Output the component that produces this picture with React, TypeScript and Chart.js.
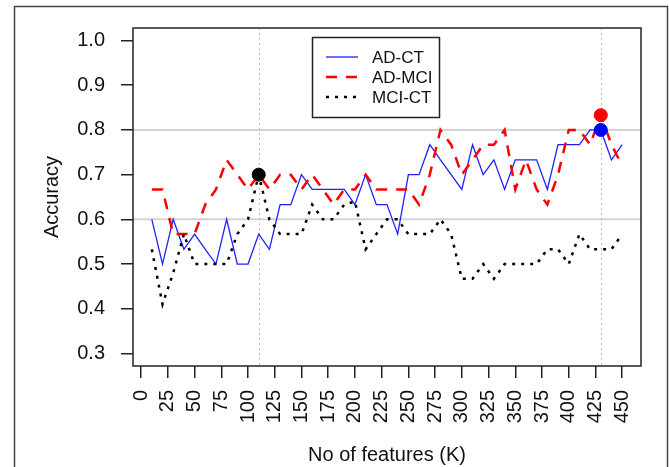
import React, { useEffect, useRef } from "react";
import { Chart, registerables } from "chart.js";

Chart.register(...registerables);

const featureCounts = [
  10, 20, 30, 40, 50, 60, 70, 80, 90, 100, 110, 120, 130, 140, 150, 160, 170, 180, 190, 200, 210, 220, 230,
  240, 250, 260, 270, 280, 290, 300, 310, 320, 330, 340, 350, 360, 370, 380, 390, 400, 410, 420, 430, 440, 450,
];

const adCt = [
  0.6, 0.5, 0.6, 0.533, 0.567, 0.533, 0.5, 0.6, 0.5, 0.5, 0.567, 0.533, 0.633, 0.633, 0.7, 0.667, 0.667, 0.667,
  0.667, 0.633, 0.7, 0.633, 0.633, 0.567, 0.7, 0.7, 0.767, 0.733, 0.7, 0.667, 0.767, 0.7, 0.733, 0.667, 0.733,
  0.733, 0.733, 0.667, 0.767, 0.767, 0.767, 0.8, 0.8, 0.733, 0.767,
];

const adMci = [
  0.667, 0.667, 0.567, 0.567, 0.567, 0.633, 0.667, 0.733, 0.7, 0.667, 0.7, 0.667, 0.7, 0.7, 0.667, 0.7, 0.667,
  0.633, 0.667, 0.667, 0.7, 0.667, 0.667, 0.667, 0.667, 0.633, 0.7, 0.8, 0.767, 0.7, 0.733, 0.767, 0.767, 0.8,
  0.667, 0.733, 0.667, 0.633, 0.7, 0.8, 0.8, 0.767, 0.833, 0.767, 0.72,
];

const mciCt = [
  0.533, 0.41, 0.48, 0.567, 0.5, 0.5, 0.5, 0.5, 0.567, 0.6, 0.7, 0.6, 0.567, 0.567, 0.567, 0.633, 0.6, 0.6, 0.633,
  0.64, 0.533, 0.567, 0.6, 0.6, 0.567, 0.567, 0.567, 0.6, 0.567, 0.467, 0.467, 0.5, 0.467, 0.5, 0.5, 0.5, 0.5,
  0.533, 0.533, 0.5, 0.567, 0.533, 0.533, 0.533, 0.567,
];

const seriesLabels = ["AD-CT", "AD-MCI", "MCI-CT"];

// best-K markers
const bestAdCt = { x: 430, y: 0.8 };
const bestAdMci = { x: 430, y: 0.833 };
const bestMciCt = { x: 110, y: 0.7 };

const xTicks = [0, 25, 50, 75, 100, 125, 150, 175, 200, 225, 250, 275, 300, 325, 350, 375, 400, 425, 450];
const yTicks = [0.3, 0.4, 0.5, 0.6, 0.7, 0.8, 0.9, 1.0];
const hRefLines = [0.6, 0.8];
const vRefLines = [110, 430];

const FONT = "'Liberation Sans', Arial, Helvetica, sans-serif";

const decorPlugin = {
  id: "decor",
  beforeDraw(chart: any) {
    const { ctx, width, height } = chart;
    ctx.save();
    ctx.fillStyle = "#ffffff";
    ctx.fillRect(0, 0, width, height);
    ctx.strokeStyle = "#444";
    ctx.lineWidth = 1.5;
    ctx.strokeRect(14.5, 6.5, 653, 480);
    ctx.restore();
  },
  beforeDatasetsDraw(chart: any) {
    const { ctx, chartArea, scales } = chart;
    ctx.save();
    ctx.strokeStyle = "#d3d3d3";
    ctx.lineWidth = 2;
    hRefLines.forEach((v) => {
      const y = scales.y.getPixelForValue(v);
      ctx.beginPath();
      ctx.moveTo(chartArea.left, y);
      ctx.lineTo(chartArea.right, y);
      ctx.stroke();
    });
    ctx.strokeStyle = "#bdbdbd";
    ctx.lineWidth = 1;
    ctx.setLineDash([2, 3]);
    vRefLines.forEach((v) => {
      const x = Math.round(scales.x.getPixelForValue(v)) + 0.5;
      ctx.beginPath();
      ctx.moveTo(x, chartArea.top);
      ctx.lineTo(x, chartArea.bottom);
      ctx.stroke();
    });
    ctx.restore();
  },
  afterDatasetsDraw(chart: any) {
    const { ctx, chartArea } = chart;
    ctx.save();
    ctx.strokeStyle = "#222";
    ctx.lineWidth = 1.5;
    ctx.strokeRect(chartArea.left, chartArea.top, chartArea.right - chartArea.left, chartArea.bottom - chartArea.top);

    // legend
    const bx = 312.5;
    const by = 37.5;
    ctx.fillStyle = "#fff";
    ctx.fillRect(bx, by, 127, 80);
    ctx.strokeRect(bx, by, 127, 80);
    ctx.font = `17px ${FONT}`;
    ctx.textBaseline = "middle";
    ctx.textAlign = "left";
    for (let i = 0; i < 3; i++) {
      const ds = chart.data.datasets[i];
      const y = 57 + i * 20;
      ctx.strokeStyle = ds.borderColor;
      ctx.lineWidth = ds.borderWidth;
      ctx.setLineDash(ds.borderDash || []);
      ctx.beginPath();
      ctx.moveTo(326, y);
      ctx.lineTo(358, y);
      ctx.stroke();
      ctx.setLineDash([]);
      ctx.fillStyle = "#111";
      ctx.fillText(ds.label, 372, y + 1);
    }
    ctx.restore();
  },
};

export default function App() {
  const canvasRef = useRef<HTMLCanvasElement | null>(null);

  useEffect(() => {
    const canvas = canvasRef.current;
    if (!canvas) return;
    const toPts = (vals: number[]) => featureCounts.map((x, i) => ({ x, y: vals[i] }));
    const chart = new Chart(canvas, {
      type: "line",
      data: {
        datasets: [
          {
            label: seriesLabels[0],
            data: toPts(adCt),
            borderColor: "#1f1fff",
            borderWidth: 1.3,
            pointRadius: 0,
            tension: 0,
            order: 5,
          },
          {
            label: seriesLabels[1],
            data: toPts(adMci),
            borderColor: "#ff0000",
            borderWidth: 2.5,
            borderDash: [11, 9],
            pointRadius: 0,
            tension: 0,
            order: 4,
          },
          {
            label: seriesLabels[2],
            data: toPts(mciCt),
            borderColor: "#000000",
            borderWidth: 2.5,
            borderDash: [3, 6],
            pointRadius: 0,
            tension: 0,
            order: 3,
          },
          {
            label: "best MCI-CT",
            data: [bestMciCt],
            showLine: false,
            pointRadius: 6.5,
            pointBackgroundColor: "#000",
            pointBorderColor: "#000",
            borderColor: "#000",
            order: 2,
          },
          {
            label: "best AD-MCI",
            data: [bestAdMci],
            showLine: false,
            pointRadius: 6.5,
            pointBackgroundColor: "#ff0000",
            pointBorderColor: "#ff0000",
            borderColor: "#ff0000",
            order: 1,
          },
          {
            label: "best AD-CT",
            data: [bestAdCt],
            showLine: false,
            pointRadius: 6.5,
            pointBackgroundColor: "#0000ff",
            pointBorderColor: "#0000ff",
            borderColor: "#0000ff",
            order: 0,
          },
        ],
      },
      options: {
        responsive: false,
        animation: false,
        devicePixelRatio: 1,
        layout: { padding: { left: 0, top: 24, right: 28, bottom: 0 } },
        plugins: { legend: { display: false }, tooltip: { enabled: false } },
        scales: {
          x: {
            type: "linear",
            min: -7.6,
            max: 467.6,
            afterBuildTicks: (scale: any) => {
              scale.ticks = xTicks.map((v) => ({ value: v }));
            },
            afterFit: (scale: any) => {
              scale.height = 101;
            },
            grid: { drawOnChartArea: false, drawTicks: true, tickLength: 12, color: "#222", lineWidth: 1.5 },
            border: { display: false },
            ticks: {
              autoSkip: false,
              minRotation: 90,
              maxRotation: 90,
              padding: 12,
              color: "#111",
              font: { family: FONT, size: 20 },
              callback: (v: any) => String(v),
            },
            title: {
              display: true,
              text: "No of features (K)",
              color: "#111",
              font: { family: FONT, size: 20 },
              padding: { top: 0, bottom: 0 },
            },
          },
          y: {
            type: "linear",
            min: 0.272,
            max: 1.028,
            afterBuildTicks: (scale: any) => {
              scale.ticks = yTicks.map((v) => ({ value: v }));
            },
            afterFit: (scale: any) => {
              scale.width = 133;
            },
            grid: { drawOnChartArea: false, drawTicks: true, tickLength: 12, color: "#222", lineWidth: 1.5 },
            border: { display: false },
            ticks: {
              padding: 16,
              color: "#111",
              font: { family: FONT, size: 20 },
              callback: (v: any) => Number(v).toFixed(1),
            },
            title: {
              display: true,
              text: "Accuracy",
              color: "#111",
              font: { family: FONT, size: 20 },
              padding: { top: 40, bottom: 0 },
            },
          },
        },
      },
      plugins: [decorPlugin],
    } as any);
    return () => chart.destroy();
  }, []);

  return (
    <div style={{ position: "absolute", left: 0, top: 0, width: 669, height: 467, background: "#fff" }}>
      <canvas ref={canvasRef} width={669} height={467} style={{ display: "block", width: 669, height: 467 }} />
    </div>
  );
}
